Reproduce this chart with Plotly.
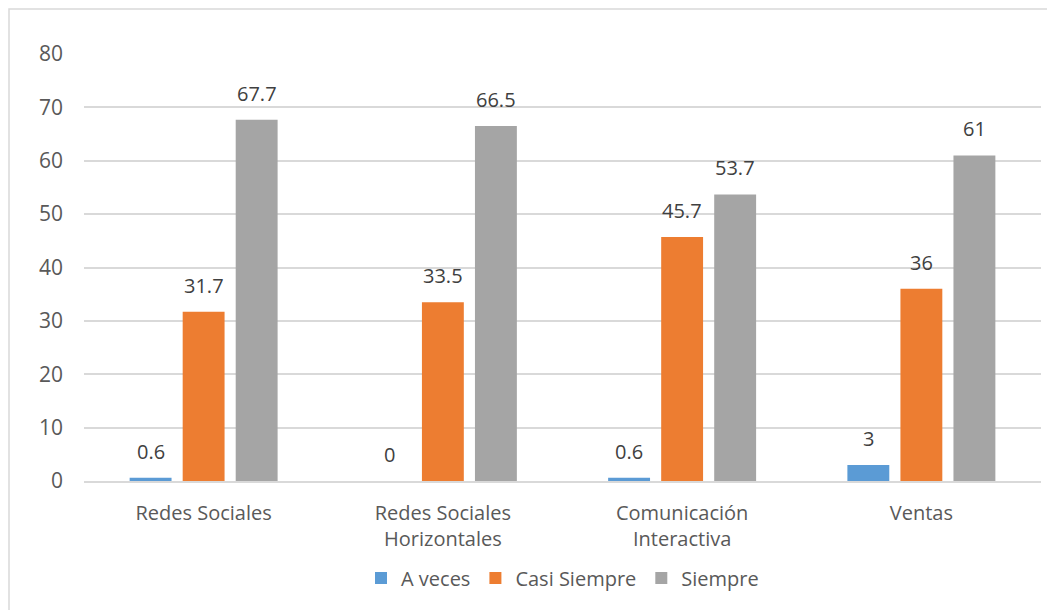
import plotly.graph_objects as go

categories = ["Redes Sociales", "Redes Sociales<br>Horizontales",
              "Comunicación<br>Interactiva", "Ventas"]
a_veces = [0.6, 0, 0.6, 3]
casi_siempre = [31.7, 33.5, 45.7, 36]
siempre = [67.7, 66.5, 53.7, 61]
series_names = ["A veces", "Casi Siempre", "Siempre"]
colors = ["#5B9BD5", "#ED7D31", "#A5A5A5"]
y_ticks = [0, 10, 20, 30, 40, 50, 60, 70, 80]

W, H = 1047, 610
M = dict(l=84, r=6, t=54, b=129)
BARGAP = 0.335
BARGROUPGAP = 0.21
FONT = "Open Sans, Liberation Sans, sans-serif"
TEXT_COLOR = "#595959"

fig = go.Figure()
all_series = [a_veces, casi_siempre, siempre]
for name, vals, col in zip(series_names, all_series, colors):
    fig.add_trace(go.Bar(x=categories, y=vals, name=name,
                         marker=dict(color=col, line=dict(width=0))))

# value labels above each bar, shifted to the bar's slot in the group
plot_w = W - M["l"] - M["r"]
slot = plot_w / len(categories) * (1 - BARGAP) / len(series_names)
for i, vals in enumerate(all_series):
    dx = (i - 1) * slot
    for cat, v in zip(categories, vals):
        fig.add_annotation(x=cat, y=v, text=f"{v:g}", showarrow=False,
                           xshift=dx, yshift=11, yanchor="bottom",
                           font=dict(family=FONT, size=20, color="#404040"))

# chart border
fig.add_shape(type="rect", xref="paper", yref="paper",
              x0=(9 - M["l"]) / plot_w, x1=1.05,
              y0=-0.35, y1=1 + (M["t"] - 9) / (H - M["t"] - M["b"]),
              line=dict(color="#D9D9D9", width=1.5), fillcolor="rgba(0,0,0,0)",
              layer="below")

fig.update_layout(
    width=W, height=H, margin=M,
    paper_bgcolor="white", plot_bgcolor="white",
    barmode="group", bargap=BARGAP, bargroupgap=BARGROUPGAP,
    font=dict(family=FONT, size=20, color=TEXT_COLOR),
    showlegend=True,
    legend=dict(orientation="h", x=0.5, xanchor="center",
                y=-0.227, yanchor="middle",
                font=dict(family=FONT, size=20, color=TEXT_COLOR),
                itemwidth=30, tracegroupgap=0),
)
fig.update_yaxes(range=[0, 80], tickvals=y_ticks, showgrid=True,
                 gridcolor="#D9D9D9", gridwidth=1.5, zeroline=False,
                 showline=False, ticks="", ticklabelstandoff=20,
                 tickfont=dict(size=21, color=TEXT_COLOR))
fig.update_xaxes(showline=True, linecolor="#D9D9D9", linewidth=1.5,
                 ticks="outside", ticklen=13, tickcolor="rgba(0,0,0,0)",
                 tickfont=dict(size=20, color=TEXT_COLOR))

fig.write_html("out.html")
